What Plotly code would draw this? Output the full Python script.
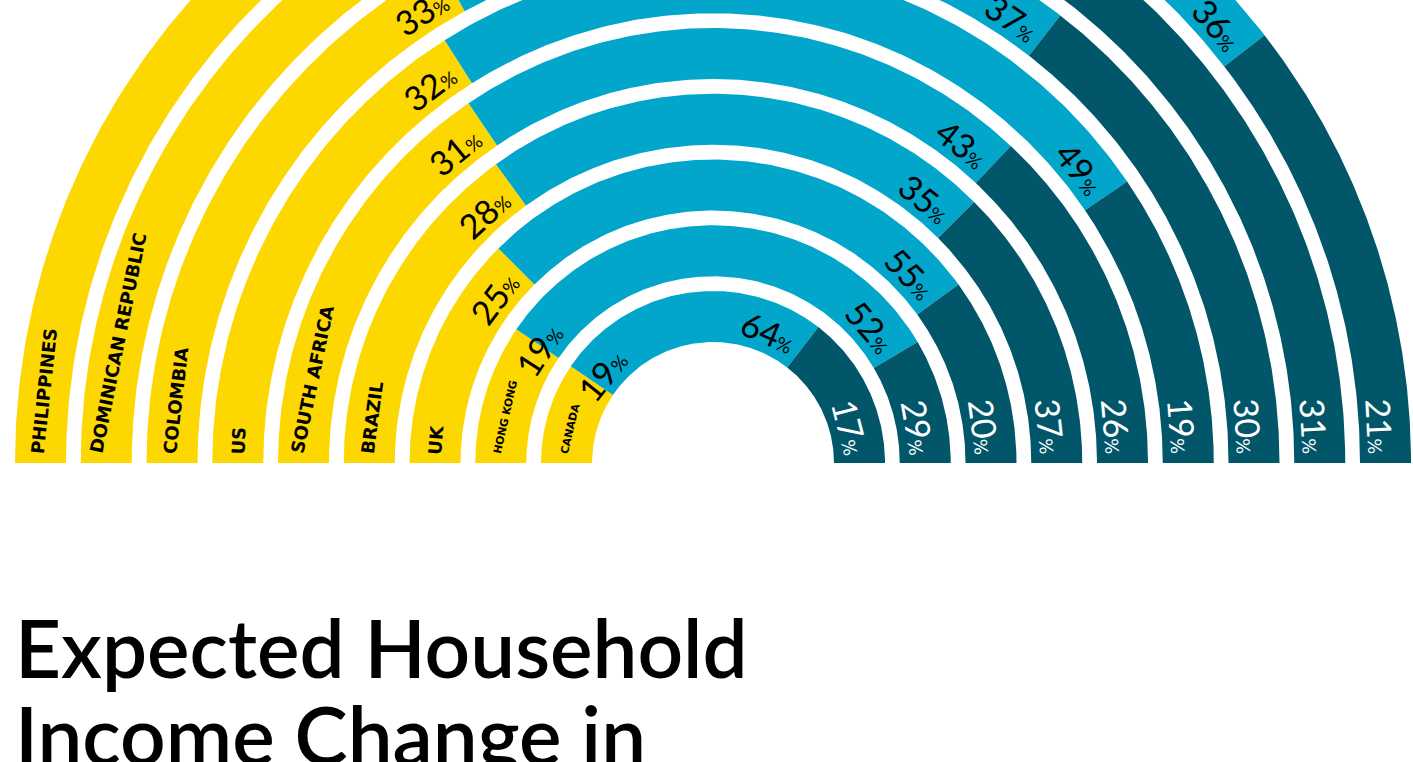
import numpy as np
import plotly.graph_objects as go

# ---------------- data ----------------
countries = ["CANADA", "HONG KONG", "UK", "BRAZIL", "SOUTH AFRICA", "US",
             "COLOMBIA", "DOMINICAN REPUBLIC", "PHILIPPINES"]
# shares as drawn (percent of the half circle)
decrease_share = [19, 19, 25, 30, 31, 32, 34, 34, 43]
same_share     = [52, 64, 55, 45, 43, 49, 37, 35, 36]
increase_share = [29, 17, 20, 25, 26, 19, 29, 31, 21]
# printed percentage labels
decrease_label = [19, 19, 25, 28, 31, 32, 33, 34, 43]
same_label     = [64, 52, 55, 35, 43, 49, 37, 35, 36]
increase_label = [17, 29, 20, 37, 26, 19, 30, 31, 21]
title_lines = ["Expected Household", "Income Change in"]

# ---------------- style / geometry ----------------
W, H = 1413, 762
CX, CY = 713, 463
R0, STEP, BAND = 121, 65.75, 51
DEG = 1.8
YELLOW, BLUE, DARK = "#FCD700", "#02A6CB", "#01566A"
NUM_FONT = "Lato"
CTRY_FONT = "DejaVu Sans"
yellow_shift = [-11, 4, 38, 38, 38, 38, 38, 38, 38]
# approximate advance widths (em) of DejaVu Sans Bold capitals
GLYPH_EM = {"A": .774, "B": .762, "C": .734, "D": .830, "E": .683, "F": .683,
            "G": .821, "H": .837, "I": .372, "K": .775, "L": .637, "M": .995,
            "N": .837, "O": .850, "P": .733, "R": .770, "S": .720, "T": .682,
            "U": .812, "Z": .725, " ": .348}


def band(r_in, r_out, t1, t2, n=160):
    t = np.radians(np.linspace(t1, t2, n))
    xo, yo = r_out * np.cos(t), r_out * np.sin(t)
    xi, yi = r_in * np.cos(t[::-1]), r_in * np.sin(t[::-1])
    return (np.concatenate([xo, xi, xo[:1]]),
            np.concatenate([yo, yi, yo[:1]]))


def pct_text(v, small=19):
    return f"{v}<span style='font-size:{small}px'>%</span>"


def polar(r, th):
    return r * np.cos(np.radians(th)), r * np.sin(np.radians(th))


fig = go.Figure()
ann = []
for i, name in enumerate(countries):
    r_in = R0 + STEP * i
    r_out = r_in + BAND
    r_mid = (r_in + r_out) / 2
    r_lab = r_mid - 4
    t_yb = 180 - DEG * decrease_share[i]
    t_db = DEG * increase_share[i]
    for (t1, t2, col) in [(180, t_yb, YELLOW), (t_yb, t_db, BLUE), (t_db, 0, DARK)]:
        x, y = band(r_in, r_out, t1, t2)
        fig.add_trace(go.Scatter(x=x, y=y, mode="lines", fill="toself",
                                 fillcolor=col, line=dict(width=0, color=col),
                                 hoverinfo="skip", showlegend=False))

    # yellow label
    th = t_yb + np.degrees(yellow_shift[i] / r_lab)
    x, y = polar(r_lab, th)
    ann.append(dict(x=x, y=y, text=pct_text(decrease_label[i]), textangle=90 - th,
                    font=dict(family=NUM_FONT, size=34, color="black")))
    # blue label
    th = t_db + np.degrees(37 / r_lab)
    x, y = polar(r_lab, th)
    ann.append(dict(x=x, y=y, text=pct_text(same_label[i]), textangle=90 - th,
                    font=dict(family=NUM_FONT, size=34, color="black")))
    # dark label
    th = np.degrees(37 / r_mid)
    x, y = polar(r_lab, th)
    ann.append(dict(x=x, y=y, text=pct_text(increase_label[i]), textangle=90 - th,
                    font=dict(family=NUM_FONT, size=34, color="white")))
    # country label
    fs = 10.8 if i < 2 else 18
    L = sum(GLYPH_EM.get(c, .75) for c in name) * fs
    th = 180 - np.degrees((9 + L / 2) / r_mid)
    x, y = polar(r_mid, th)
    ann.append(dict(x=x, y=y, text=name, textangle=90 - th,
                    font=dict(family=CTRY_FONT, size=fs, color="black", weight=700)))

for a in ann:
    a.update(xref="x", yref="y", showarrow=False, xanchor="center", yanchor="middle")

# title lines
for k, line in enumerate(title_lines):
    ann.append(dict(x=13 - CX, y=CY - (647 + 87 * k), xref="x", yref="y",
                    text=line, showarrow=False, xanchor="left", yanchor="middle",
                    font=dict(family="Lato", size=80, color="black", weight=600)))

fig.update_layout(
    width=W, height=H, autosize=False,
    margin=dict(l=0, r=0, t=0, b=0),
    paper_bgcolor="white", plot_bgcolor="white",
    xaxis=dict(range=[-CX, W - CX], visible=False, fixedrange=True),
    yaxis=dict(range=[CY - H, CY], visible=False, fixedrange=True),
    annotations=ann, showlegend=False, hovermode=False,
)
fig.write_html("out.html",
               config={"displayModeBar": False, "staticPlot": True},
               post_script="document.body.style.margin='0';document.body.style.overflow='hidden';")
